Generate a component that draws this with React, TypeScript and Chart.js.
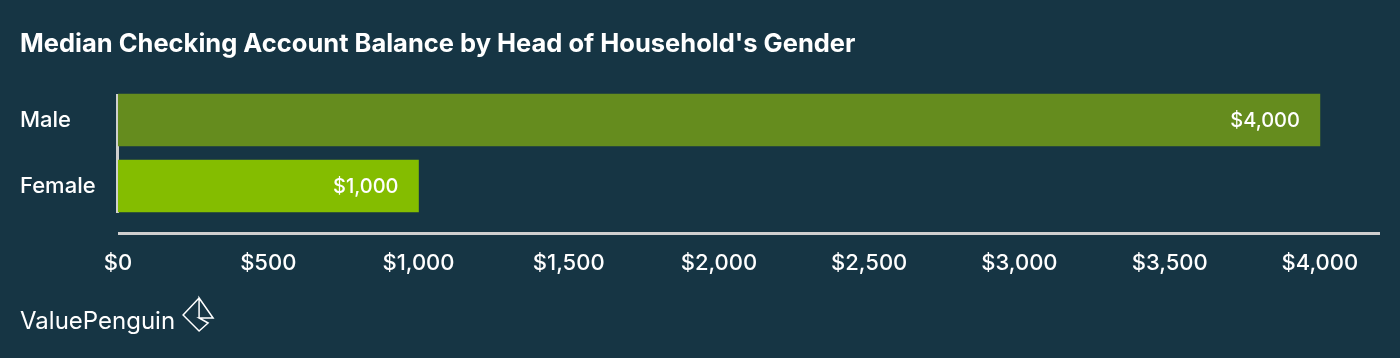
import React, { useEffect, useRef } from "react";
import { Chart, registerables } from "chart.js";

Chart.register(...registerables);

const TITLE = "Median Checking Account Balance by Head of Household's Gender";
const categories = ["Male", "Female"];
const balances = [4000, 1000];
const barColors = ["#658c1e", "#84bd00"];
const xTickValues = [0, 500, 1000, 1500, 2000, 2500, 3000, 3500, 4000];
const FOOTER = "ValuePenguin";

const BG = "#163544";
const FONT = "Inter, 'Open Sans', sans-serif";
const fmt = (v: number) => "$" + v.toLocaleString("en-US");

const decorPlugin = {
  id: "decor",
  beforeDraw(chart: any) {
    const { ctx, width, height } = chart;
    ctx.save();
    ctx.fillStyle = BG;
    ctx.fillRect(0, 0, width, height);
    ctx.restore();
  },
  beforeDatasetsDraw(chart: any) {
    const { ctx, chartArea, scales } = chart;
    const x0 = scales.x.getPixelForValue(0);
    ctx.save();
    ctx.fillStyle = "#cfcfcf";
    ctx.fillRect(x0 - 2, chartArea.top + 7, 3, chartArea.bottom - chartArea.top - 13);
    ctx.fillRect(x0, chartArea.bottom + 13, scales.x.right - x0, 3);
    ctx.restore();
  },
  afterDatasetsDraw(chart: any) {
    const { ctx } = chart;
    const meta = chart.getDatasetMeta(0);
    ctx.save();
    ctx.fillStyle = "#ffffff";
    ctx.font = `500 20px ${FONT}`;
    ctx.textAlign = "right";
    ctx.textBaseline = "middle";
    meta.data.forEach((bar: any, i: number) => {
      ctx.fillText(fmt(balances[i]), bar.x - 20, bar.y + 1);
    });
    ctx.restore();
  },
  afterDraw(chart: any) {
    const { ctx } = chart;
    ctx.save();
    ctx.fillStyle = "#ffffff";
    ctx.font = `24px ${FONT}`;
    ctx.textAlign = "left";
    ctx.textBaseline = "middle";
    ctx.fillText(FOOTER, 20, 322);
    const w = ctx.measureText(FOOTER).width;
    const lx = 20 + w + 8;
    const ty = 298;
    const T = [lx + 16, ty];
    const L = [lx, ty + 17];
    const B = [lx + 16, ty + 33];
    const R = [lx + 30, ty + 20];
    const C = [lx + 16, ty + 20];
    const P = [lx + 25, ty + 25];
    ctx.strokeStyle = "#ffffff";
    ctx.lineWidth = 1.5;
    ctx.lineJoin = "miter";
    ctx.beginPath();
    ctx.moveTo(T[0], T[1]);
    ctx.lineTo(L[0], L[1]);
    ctx.lineTo(B[0], B[1]);
    ctx.lineTo(P[0], P[1]);
    ctx.lineTo(C[0], C[1]);
    ctx.lineTo(R[0], R[1]);
    ctx.lineTo(T[0], T[1]);
    ctx.lineTo(C[0], C[1]);
    ctx.stroke();
    ctx.restore();
  },
};

export default function App() {
  const ref = useRef<HTMLCanvasElement | null>(null);
  useEffect(() => {
    if (!ref.current) return;
    const chart = new Chart(ref.current, {
      type: "bar",
      data: {
        labels: categories,
        datasets: [
          {
            data: balances,
            backgroundColor: barColors,
            barThickness: 52,
            borderWidth: 0,
          },
        ],
      },
      options: {
        indexAxis: "y",
        animation: false,
        responsive: false,
        maintainAspectRatio: false,
        layout: { padding: { left: 20, right: 20, top: 0, bottom: 83 } },
        plugins: {
          legend: { display: false },
          tooltip: { enabled: false },
          title: {
            display: true,
            text: TITLE,
            align: "start",
            color: "#ffffff",
            font: { family: FONT, size: 25.5, weight: "bold" },
            padding: { top: 29, bottom: 27.4 },
          },
        },
        scales: {
          x: {
            type: "linear",
            min: 0,
            max: 4200,
            grid: { display: false, drawTicks: false },
            border: { display: false },
            afterBuildTicks: (scale: any) => {
              scale.ticks = xTickValues.map((v) => ({ value: v }));
            },
            afterFit: (scale: any) => {
              scale.height = 56;
            },
            ticks: {
              color: "#ffffff",
              padding: 31,
              maxRotation: 0,
              autoSkip: false,
              font: { family: FONT, size: 22, weight: "500" },
              callback: (v: any) => fmt(Number(v)),
            },
          },
          y: {
            grid: { display: false, drawTicks: false },
            border: { display: false },
            afterFit: (scale: any) => {
              scale.width = 98;
            },
            ticks: {
              color: "#ffffff",
              crossAlign: "far",
              padding: 0,
              font: { family: FONT, size: 22, weight: "500" },
            },
          },
        },
      },
      plugins: [decorPlugin],
    });
    return () => chart.destroy();
  }, []);
  return (
    <div style={{ position: "absolute", left: 0, top: 0, width: 1400, height: 358, background: BG }}>
      <canvas ref={ref} width={1400} height={358} style={{ display: "block" }} />
    </div>
  );
}
